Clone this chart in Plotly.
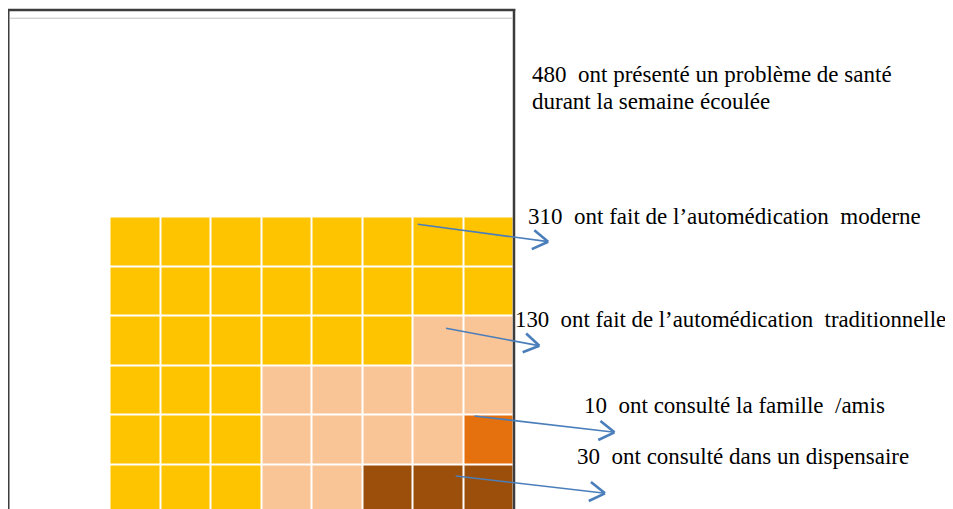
import math
import plotly.graph_objects as go

# ---- data ----
categories = [
    "ont fait de l\u2019automédication\u00a0 moderne",
    "ont fait de l\u2019automédication\u00a0 traditionnelle",
    "ont consulté la famille\u00a0 /amis",
    "ont consulté dans un dispensaire",
]
values = [310, 130, 10, 30]
total = 480
total_label_lines = ["ont présenté un problème de santé", "durant la semaine écoulée"]
unit = 10  # persons per square
n_cols = 8
# how many squares of each category sit in each row (top to bottom)
row_counts = [
    [8, 0, 0, 0],
    [8, 0, 0, 0],
    [6, 2, 0, 0],
    [3, 5, 0, 0],
    [3, 4, 1, 0],
    [3, 2, 0, 3],
]
colors = ["#FFC400", "#F9C496", "#E4700E", "#9C4F0B"]

for k, v in enumerate(values):
    assert sum(r[k] for r in row_counts) == v // unit
assert sum(values) == total

z = []
for r in row_counts:
    row = []
    for k, c in enumerate(r):
        row += [k] * c
    z.append(row)

# figure pixel geometry (page is offset 8px by body margin)
W, H = 953, 509
gx0, gx1 = 101.5, 505.5
gy0 = 208.5
cell_h = 49.6
n_rows = len(row_counts)
gy1 = gy0 + cell_h * n_rows

ncat = len(colors)
cs = []
for i, c in enumerate(colors):
    cs.append([i / ncat, c])
    cs.append([(i + 1) / ncat, c])

fig = go.Figure()
fig.add_trace(go.Heatmap(
    z=z, x=list(range(n_cols)), y=list(range(n_rows)),
    zmin=0, zmax=ncat, colorscale=cs, showscale=False,
    xgap=2, ygap=2, hoverinfo="skip",
))


def px(x):
    return x / W


def py(y):
    return 1 - y / H


shapes = []
frame_col = "#3C3C3C"
shapes.append(dict(type="line", xref="paper", yref="paper", x0=px(0.3), x1=px(0.3), y0=py(1), y1=py(H + 2),
                   line=dict(color=frame_col, width=2.4), layer="above"))
shapes.append(dict(type="line", xref="paper", yref="paper", x0=px(-1), x1=px(507.3), y0=py(2), y1=py(2),
                   line=dict(color=frame_col, width=2.4), layer="above"))
shapes.append(dict(type="line", xref="paper", yref="paper", x0=px(506), x1=px(506), y0=py(1), y1=py(H + 2),
                   line=dict(color=frame_col, width=2.5), layer="above"))
shapes.append(dict(type="line", xref="paper", yref="paper", x0=px(1.5), x1=px(504.8), y0=py(10.2), y1=py(10.2),
                   line=dict(color="#C0C0C0", width=1), layer="above"))

# arrows (start, tip) in figure pixels
arrows = [
    ((409.7, 216.3), (540.2, 233.7)),
    ((438.0, 320.3), (531.4, 337.7)),
    ((466.5, 408.0), (606.5, 424.3)),
    ((447.7, 468.0), (597.0, 485.3)),
]
acol = "#4A7EBB"
for (x0, y0), (x1, y1) in arrows:
    shapes.append(dict(type="line", xref="paper", yref="paper",
                       x0=px(x0), y0=py(y0), x1=px(x1 - 2), y1=py(y1 - 0.3),
                       line=dict(color=acol, width=1.6), layer="above"))
    ang = math.atan2(y1 - y0, x1 - x0)
    L = 18
    for s in (-1, 1):
        a = ang + math.pi + s * math.radians(32)
        shapes.append(dict(type="line", xref="paper", yref="paper",
                           x0=px(x1 + L * math.cos(a)), y0=py(y1 + L * math.sin(a)),
                           x1=px(x1), y1=py(y1),
                           line=dict(color=acol, width=2.6), layer="above"))

family = "Liberation Serif, Times New Roman, serif"
font = dict(family=family, size=23, color="#000000")
annotations = []
annotations.append(dict(xref="paper", yref="paper", x=px(522), y=py(66.2), xanchor="left", yanchor="middle",
                        text=f"{total}\u00a0 {total_label_lines[0]}", showarrow=False, font=font, align="left"))
annotations.append(dict(xref="paper", yref="paper", x=px(522), y=py(93), xanchor="left", yanchor="middle",
                        text=total_label_lines[1], showarrow=False, font=font, align="left"))
label_pos = [(517.5, 208.5), (505, 311.5), (574, 397.2), (566.5, 448.5)]
label_sizes = [23, 22.8, 23, 23]
for (x, y), v, c, s in zip(label_pos, values, categories, label_sizes):
    annotations.append(dict(xref="paper", yref="paper", x=px(x), y=py(y), xanchor="left", yanchor="middle",
                            text=f"{v}\u00a0 {c}", showarrow=False,
                            font=dict(family=family, size=s, color="#000000"), align="left"))

fig.update_layout(
    width=W, height=H, autosize=False,
    margin=dict(l=0, r=0, t=0, b=0),
    paper_bgcolor="white", plot_bgcolor="white",
    xaxis=dict(domain=[gx0 / W, gx1 / W], range=[-0.5, n_cols - 0.5], visible=False, fixedrange=True),
    yaxis=dict(domain=[(H - gy1) / H, (H - gy0) / H], range=[n_rows - 0.5, -0.5], visible=False,
               fixedrange=True),
    shapes=shapes, annotations=annotations, showlegend=False,
)

fig.write_html("out.html")
